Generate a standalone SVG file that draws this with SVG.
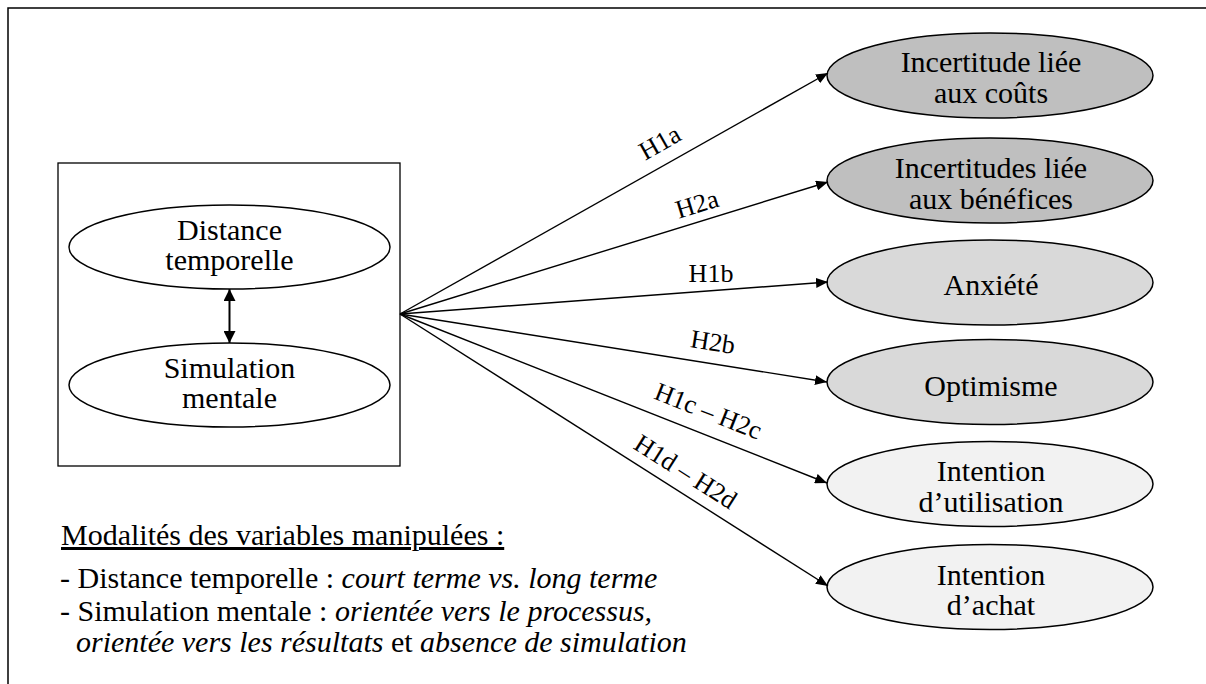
<svg xmlns="http://www.w3.org/2000/svg" width="1206" height="684" viewBox="0 0 1206 684">
<defs>
<style>
text{font-family:"Liberation Serif","Times New Roman",serif;fill:#000}
.n{font-size:30px;text-anchor:middle}
.l{font-size:26px;text-anchor:middle}
.b{font-size:30px}
.i{font-style:italic}
.e{stroke:#000;stroke-width:1.5}
.c{stroke:#000;stroke-width:1.4;fill:none}
.d{fill:#bfbfbf}
.m{fill:#d9d9d9}
.w{fill:#f2f2f2}
</style>
<marker id="ah" viewBox="0 0 12 10" refX="12" refY="5" markerWidth="12" markerHeight="10" markerUnits="userSpaceOnUse" orient="auto">
<path d="M0,0 L12,5 L0,10 z" fill="#000"/>
</marker>
<marker id="ah2" viewBox="0 0 12 12" refX="12" refY="6" markerWidth="13" markerHeight="12" markerUnits="userSpaceOnUse" orient="auto-start-reverse">
<path d="M0,0 L12,6 L0,12 z" fill="#000"/>
</marker>
</defs>
<rect width="1206" height="684" fill="#fff"/>
<path d="M8,684 L8,8 L1206,8" fill="none" stroke="#000" stroke-width="1.5"/>

<g id="inputs">
<rect x="58" y="163" width="342" height="303" fill="none" stroke="#000" stroke-width="1.3"/>
<g id="distance">
<ellipse cx="229.5" cy="247" rx="160.5" ry="42" fill="#fff" class="e"/>
<text class="n" x="229.5" y="240">Distance</text>
<text class="n" x="229.5" y="270">temporelle</text>
</g>
<g id="simulation">
<ellipse cx="229.5" cy="385" rx="160.5" ry="42" fill="#fff" class="e"/>
<text class="n" x="229.5" y="378">Simulation</text>
<text class="n" x="229.5" y="408">mentale</text>
</g>
</g>

<g id="n1"><ellipse cx="990" cy="75.5" rx="163" ry="42.5" class="e d"/>
<text class="n" x="991" y="72">Incertitude liée</text><text class="n" x="991" y="103">aux coûts</text></g>
<g id="n2"><ellipse cx="990" cy="180.5" rx="163" ry="42.5" class="e d"/>
<text class="n" x="991" y="178">Incertitudes liée</text><text class="n" x="991" y="209">aux bénéfices</text></g>
<g id="n3"><ellipse cx="990" cy="282.5" rx="163" ry="42.5" class="e m"/>
<text class="n" x="991" y="295">Anxiété</text></g>
<g id="n4"><ellipse cx="990" cy="382" rx="163" ry="42.5" class="e m"/>
<text class="n" x="991" y="396">Optimisme</text></g>
<g id="n5"><ellipse cx="990" cy="484" rx="163" ry="42.5" class="e w"/>
<text class="n" x="991" y="481">Intention</text><text class="n" x="991" y="512">d’utilisation</text></g>
<g id="n6"><ellipse cx="990" cy="587" rx="163" ry="42.5" class="e w"/>
<text class="n" x="991" y="585">Intention</text><text class="n" x="991" y="615">d’achat</text></g>

<g id="connectors">
<line x1="229.5" y1="289" x2="229.5" y2="343" stroke="#000" stroke-width="2" marker-start="url(#ah2)" marker-end="url(#ah2)"/>
<line class="c" x1="400" y1="314" x2="828" y2="73" marker-end="url(#ah)"/>
<line class="c" x1="400" y1="314" x2="828" y2="182" marker-end="url(#ah)"/>
<line class="c" x1="400" y1="314" x2="828" y2="282" marker-end="url(#ah)"/>
<line class="c" x1="400" y1="314" x2="827" y2="382" marker-end="url(#ah)"/>
<line class="c" x1="400" y1="314" x2="827" y2="483" marker-end="url(#ah)"/>
<line class="c" x1="400" y1="314" x2="828" y2="586" marker-end="url(#ah)"/>
<text class="l" transform="translate(664,150) rotate(-29.4)">H1a</text>
<text class="l" transform="translate(699.5,212.5) rotate(-17.1)">H2a</text>
<text class="l" transform="translate(711,282)">H1b</text>
<text class="l" transform="translate(711.5,350.5) rotate(9)">H2b</text>
<text class="l" transform="translate(705,419) rotate(21.6)">H1c – H2c</text>
<text class="l" transform="translate(681,479) rotate(32.4)">H1d – H2d</text>
</g>

<g id="legend">
<text class="b" x="61" y="545" text-decoration="underline">Modalités des variables manipulées :</text>
<text class="b" x="60" y="588">- Distance temporelle : <tspan class="i">court terme vs. long terme</tspan></text>
<text class="b" x="60" y="621">- Simulation mentale : <tspan class="i">orientée vers le processus,</tspan></text>
<text class="b" x="76" y="652"><tspan class="i">orientée vers les résultats</tspan> et <tspan class="i">absence de simulation</tspan></text>
</g>
</svg>
